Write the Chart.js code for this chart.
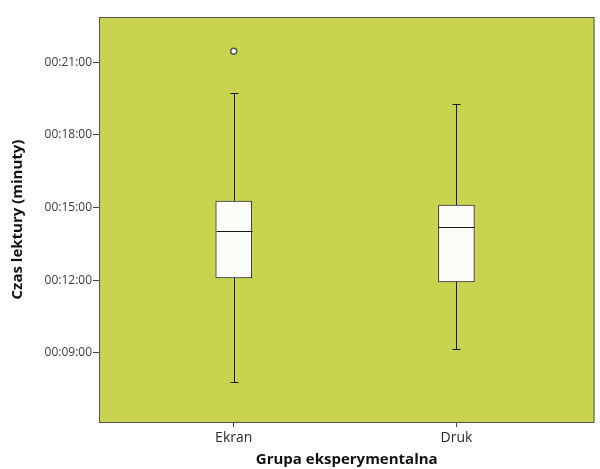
<!DOCTYPE html>
<html>
<head>
<meta charset="utf-8">
<script src="https://cdn.jsdelivr.net/npm/chart.js@4.4.1/dist/chart.umd.min.js"></script>
<style>
  html, body { margin: 0; padding: 0; background: #fff; }
  #wrap { width: 600px; height: 469px; }
</style>
</head>
<body>
<div id="wrap"><canvas id="boxChart"></canvas></div>
<script>
// Czas lektury w minutach (ułamki minut)
const groups = ['Ekran', 'Druk'];
const groupPos = [1, 2];
const whiskerLow = [7.8, 9.16];
const q1 = [12.09, 11.93];
const medians = [14.03, 14.2];
const q3 = [15.27, 15.1];
const whiskerHigh = [19.72, 19.27];
const outlierGroup = [1];
const outlierValues = [21.45];
const yTicks = [9, 12, 15, 18, 21];

function fmtTime(v) {
    const m = Math.round(v);
    return '00:' + String(m).padStart(2, '0') + ':00';
}

// tło obszaru wykresu + ramka
const plotBg = {
    id: 'plotBg',
    beforeDraw(chart) {
        const { ctx, chartArea: a } = chart;
        ctx.save();
        ctx.fillStyle = 'rgb(200, 211, 80)';
        ctx.fillRect(a.left, a.top, a.right - a.left, a.bottom - a.top);
        ctx.restore();
    },
    afterDraw(chart) {
        const { ctx, chartArea: a } = chart;
        ctx.save();
        ctx.strokeStyle = '#555';
        ctx.lineWidth = 1;
        ctx.strokeRect(a.left + 0.5, a.top + 0.5, a.right - a.left - 1, a.bottom - a.top);
        ctx.restore();
    }
};

// wąsy, końcówki i mediany
const boxLines = {
    id: 'boxLines',
    afterDatasetsDraw(chart) {
        const { ctx, scales: { x, y } } = chart;
        const boxW = 36;
        ctx.save();
        ctx.strokeStyle = '#1a1a1a';
        ctx.lineWidth = 1;
        groupPos.forEach((g, i) => {
            const cx = Math.round(x.getPixelForValue(g)) + 0.5;
            const line = (x1, y1, x2, y2) => {
                ctx.beginPath();
                ctx.moveTo(x1, y1);
                ctx.lineTo(x2, y2);
                ctx.stroke();
            };
            const yLo = y.getPixelForValue(whiskerLow[i]);
            const yHi = y.getPixelForValue(whiskerHigh[i]);
            const yQ1 = y.getPixelForValue(q1[i]);
            const yQ3 = y.getPixelForValue(q3[i]);
            const yMed = Math.round(y.getPixelForValue(medians[i])) + 0.5;
            line(cx, yQ1, cx, yLo);
            line(cx, yQ3, cx, yHi);
            line(cx - 4, Math.round(yLo) + 0.5, cx + 4, Math.round(yLo) + 0.5);
            line(cx - 4, Math.round(yHi) + 0.5, cx + 4, Math.round(yHi) + 0.5);
            line(cx - boxW / 2, yMed, cx + boxW / 2, yMed);
        });
        ctx.restore();
    }
};

new Chart(document.getElementById('boxChart'), {
    type: 'bar',
    data: {
        datasets: [
            {
                type: 'bar',
                label: 'IQR',
                data: groupPos.map((g, i) => ({ x: g, y: [q1[i], q3[i]] })),
                backgroundColor: '#fcfdf8',
                borderColor: '#333',
                borderWidth: 1,
                borderSkipped: false,
                barThickness: 36,
                grouped: false
            },
            {
                type: 'scatter',
                label: 'Odstające',
                data: outlierGroup.map((g, i) => ({ x: g, y: outlierValues[i] })),
                pointRadius: 3,
                pointBackgroundColor: '#fff',
                pointBorderColor: '#555',
                pointBorderWidth: 1.5
            }
        ]
    },
    options: {
        responsive: true,
        maintainAspectRatio: false,
        animation: false,
        layout: { padding: { top: 17, right: 5, left: 0, bottom: 0 } },
        plugins: {
            legend: { display: false },
            tooltip: { enabled: false }
        },
        scales: {
            x: {
                type: 'linear',
                min: 0.395,
                max: 2.62,
                offset: false,
                afterBuildTicks: s => { s.ticks = groupPos.map(v => ({ value: v })); },
                afterFit: s => { s.height = 47; },
                grid: { drawOnChartArea: false, offset: false, color: '#444', tickLength: 5 },
                border: { display: false },
                ticks: {
                    color: '#2a2a2a',
                    font: { family: 'Open Sans', size: 14 },
                    padding: 3,
                    callback: v => groups[groupPos.indexOf(v)] || ''
                },
                title: {
                    display: true,
                    text: 'Grupa eksperymentalna',
                    color: '#111',
                    font: { family: 'Open Sans', size: 15, weight: 'bold' },
                    padding: { top: 0, bottom: 0 }
                }
            },
            y: {
                min: 6.15,
                max: 22.86,
                afterBuildTicks: s => { s.ticks = yTicks.map(v => ({ value: v })); },
                afterFit: s => { s.width = 99; },
                grid: { drawOnChartArea: false, color: '#444', tickLength: 6 },
                border: { display: false },
                ticks: {
                    color: '#3a3a3a',
                    font: { family: 'Open Sans', size: 12 },
                    padding: 1,
                    callback: v => fmtTime(v)
                },
                title: {
                    display: true,
                    text: 'Czas lektury (minuty)',
                    color: '#111',
                    font: { family: 'Open Sans', size: 15, weight: 'bold' },
                    padding: { top: 9, bottom: 0 }
                }
            }
        }
    },
    plugins: [plotBg, boxLines]
});
</script>
</body>
</html>
